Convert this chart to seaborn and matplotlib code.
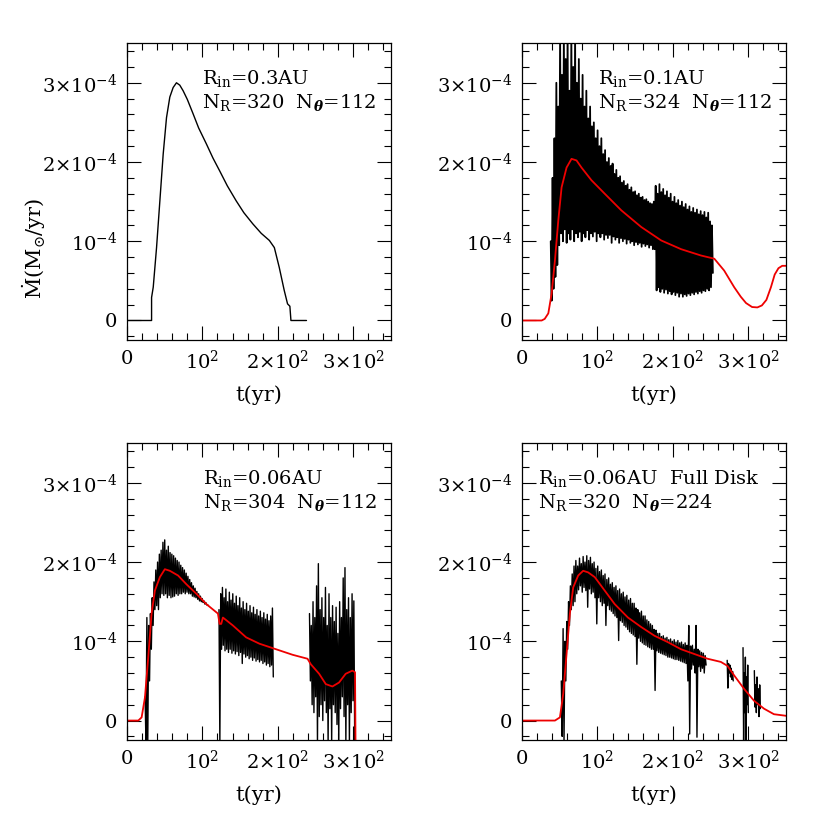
import numpy as np
import seaborn as sns
import matplotlib.pyplot as plt
from matplotlib.ticker import MultipleLocator

sns.set_style("ticks")
plt.rcParams['font.family'] = ['DejaVu Serif']
plt.rcParams['mathtext.fontset'] = 'dejavuserif'
plt.rcParams['text.color'] = 'k'
plt.rcParams['axes.labelcolor'] = 'k'

# values in units of 1e-4 Msun/yr, time in yr

# panel 1 (R_in = 0.3 AU), single smooth run
t1 = [0, 32.6, 32.6, 34.8, 39.2, 43.6, 48.0, 52.4, 56.8, 61.2, 65.6, 70, 74.4, 80,
      87.6, 95, 105.2, 114, 122.8, 133, 144.8, 155, 166.8, 178, 188.8, 195.4,
      201.9, 208.5, 212.9, 216, 217.4, 238]
v1 = [0, 0, 0.29, 0.42, 0.92, 1.51, 2.10, 2.56, 2.82, 2.94, 3.0, 2.97, 2.90, 2.79,
      2.61, 2.43, 2.23, 2.05, 1.89, 1.70, 1.51, 1.36, 1.22, 1.10, 1.01, 0.92,
      0.67, 0.38, 0.21, 0.18, 0, 0]

# panel 2 (R_in = 0.1 AU)
t2_red = [0, 26, 30, 34.8, 39.2, 43.6, 48, 52.4, 59, 65.6, 72.2, 78.8, 92, 109.6,
          131.6, 158, 184.5, 210.9, 237.3, 254.9, 268, 281.3, 290, 297, 305, 312,
          318, 324, 330, 335, 340, 345, 350]
v2_red = [0, 0, 0.02, 0.09, 0.34, 0.76, 1.26, 1.68, 1.93, 2.04, 2.02, 1.93, 1.77,
          1.60, 1.39, 1.18, 1.01, 0.90, 0.82, 0.78, 0.63, 0.42, 0.30, 0.22, 0.17,
          0.165, 0.19, 0.26, 0.42, 0.58, 0.66, 0.69, 0.69]
p2_span = [(38, 253)]
p2_hi = [[1.0, 1.8, 2.3, 3.0, 2.7, 3.6, 3.1, 3.6, 3.3, 3.6,
          2.9, 3.6, 3.2, 3.6, 3.0, 3.3, 2.8, 3.1, 2.7, 2.9,
          2.55, 2.7, 2.45, 2.5, 2.3, 2.4, 2.2, 2.3, 2.1, 2.15,
          2.0, 2.05, 1.95, 1.98, 1.85, 1.9, 1.8, 1.82, 1.74, 1.76,
          1.7, 1.72, 1.65, 1.68, 1.62, 1.63, 1.58, 1.6, 1.55, 1.56,
          1.52, 1.53, 1.5, 1.48, 1.47, 1.5, 1.7, 1.6, 1.72, 1.62,
          1.66, 1.58, 1.63, 1.55, 1.6, 1.5, 1.56, 1.48, 1.52, 1.45,
          1.5, 1.43, 1.47, 1.4, 1.44, 1.37, 1.42, 1.36, 1.4, 1.34,
          1.38, 1.33, 1.37, 1.3, 1.36, 1.25, 1.2]]
p2_lo = [[0.25, 0.4, 0.55, 0.7, 0.95, 1.1, 1.0, 1.15, 0.98, 1.1,
          1.02, 1.15, 1.0, 1.1, 1.05, 1.12, 1.0, 1.1, 1.05, 1.14,
          1.02, 1.1, 1.06, 1.12, 1.0, 1.1, 1.05, 1.1, 1.02, 1.08,
          1.04, 1.08, 0.98, 1.06, 1.02, 1.05, 0.98, 1.04, 1.0, 1.03,
          0.97, 1.02, 0.98, 1.0, 0.95, 0.99, 0.96, 0.98, 0.93, 0.97,
          0.94, 0.96, 0.92, 0.95, 0.9, 0.9, 0.38, 0.42, 0.36, 0.4,
          0.35, 0.39, 0.34, 0.37, 0.33, 0.36, 0.32, 0.35, 0.3, 0.34,
          0.3, 0.33, 0.31, 0.34, 0.32, 0.35, 0.33, 0.36, 0.34, 0.37,
          0.35, 0.38, 0.37, 0.4, 0.38, 0.42, 0.6]]

# panel 3 (R_in = 0.06 AU)
t3_red = [0, 15, 19.4, 23.8, 28.2, 32.6, 37, 43.6, 50.2, 56.8, 67.8, 78.8, 92,
          105.2, 120.6, 122.8, 125, 127.2, 140.4, 158, 175.6, 197.6, 219.6, 239.4,
          243.8, 254.8, 263.6, 272.4, 281.2, 290, 298.8, 302.4, 303.2]
v3_red = [0, 0, 0.04, 0.29, 0.80, 1.35, 1.64, 1.81, 1.91, 1.89, 1.83, 1.72, 1.60,
          1.47, 1.35, 1.22, 1.22, 1.30, 1.20, 1.05, 0.97, 0.90, 0.83, 0.78,
          0.71, 0.59, 0.46, 0.43, 0.48, 0.59, 0.63, 0.61, -0.5]
p3_span = [(24, 108), (122, 194), (242, 302)]
p3_hi = [[0.3, 1.3, 1.2, 1.35, 1.55, 1.75, 1.9, 2.0, 2.1, 2.15,
          2.25, 2.28, 2.15, 2.2, 2.12, 2.1, 2.08, 2.05, 2.02, 2.0,
          1.96, 1.93, 1.9, 1.86, 1.82, 1.78, 1.74, 1.7, 1.67, 1.63,
          1.6, 1.57, 1.54, 1.51, 1.49, 1.46],
         [1.4, 1.6, 1.68, 1.55, 1.66, 1.5, 1.62, 1.52, 1.6, 1.48,
          1.57, 1.45, 1.55, 1.42, 1.5, 1.4, 1.48, 1.38, 1.45, 1.36,
          1.43, 1.34, 1.4, 1.32, 1.38, 1.3, 1.36, 1.28, 1.34, 1.26,
          1.32, 1.42],
         [1.35, 1.2, 1.5, 1.3, 1.7, 1.98, 1.4, 1.55, 1.3, 1.68,
          1.2, 1.6, 1.3, 1.45, 1.25, 1.43, 1.1, 1.5, 1.3, 1.8,
          1.93, 1.4, 1.55, 1.3, 1.6, 1.51]]
p3_lo = [[-0.3, -0.3, 0.5, 0.9, 1.2, 1.4, 1.45, 1.4, 1.55, 1.6,
          1.58, 1.6, 1.55, 1.58, 1.55, 1.56, 1.57, 1.6, 1.58, 1.6,
          1.6, 1.62, 1.6, 1.62, 1.6, 1.6, 1.57, 1.56, 1.55, 1.53,
          1.51, 1.5, 1.49, 1.47, 1.46, 1.45],
         [-0.3, 0.9, 0.95, 0.88, 0.9, 0.86, 0.9, 0.85, 0.88, 0.84,
          0.87, 0.82, 0.86, 0.72, 0.84, 0.8, 0.82, 0.78, 0.8, 0.76,
          0.79, 0.75, 0.77, 0.74, 0.76, 0.72, 0.74, 0.7, 0.72, 0.68,
          0.7, 0.55],
         [0.5, 0.2, 0.1, 0.3, -0.3, 0.05, 0.2, 0.0, 0.25, 0.1,
          -0.3, 0.15, -0.3, 0.2, 0.1, -0.05, -0.3, 0.15, 0.3, 0.05,
          -0.3, 0.2, -0.3, 0.1, 0.25, -0.3]]

# panel 4 (R_in = 0.06 AU, full disk)
t4_red = [0, 43.6, 50.2, 54.6, 59, 63.4, 67.8, 74.4, 81, 87.6, 96.4, 109.6, 122.8,
          140.4, 158, 175.6, 193.2, 210.8, 228.4, 246, 263.6, 272.4, 281.2, 294.4,
          307.6, 320.8, 334, 350]
v4_red = [0, 0, 0.04, 0.34, 0.84, 1.35, 1.68, 1.83, 1.89, 1.87, 1.81, 1.64, 1.47,
          1.30, 1.18, 1.07, 0.99, 0.90, 0.84, 0.78, 0.74, 0.69, 0.57, 0.40, 0.25,
          0.15, 0.08, 0.06]
p4_span = [(52, 244), (272, 280), (293, 300), (308, 316)]
p4_hi = [[0.5, 1.16, 1.0, 1.25, 1.5, 1.7, 1.85, 1.95, 2.02, 1.95,
          2.05, 1.98, 2.07, 2.0, 2.08, 2.02, 2.06, 1.98, 2.0, 1.92,
          1.95, 1.88, 1.9, 1.83, 1.85, 1.78, 1.8, 1.72, 1.74, 1.68,
          1.7, 1.64, 1.66, 1.6, 1.62, 1.56, 1.58, 1.52, 1.54, 1.48,
          1.48, 1.42, 1.4, 1.36, 1.38, 1.32, 1.32, 1.27, 1.25, 1.22,
          1.2, 1.15, 1.14, 1.1, 1.1, 1.06, 1.07, 1.04, 1.05, 1.02,
          1.03, 1.0, 1.02, 0.99, 1.01, 0.98, 0.99, 0.96, 0.98, 0.95,
          1.2, 0.94, 0.95, 0.9, 1.2, 0.9, 0.88, 0.86, 0.85, 0.82],
         [0.76, 0.72, 0.7, 0.66, 0.62],
         [0.92, 0.6, 0.8, 0.55, 0.7],
         [0.63, 0.45, 0.55, 0.4, 0.45]]
p4_lo = [[-0.2, -0.25, 0.5, 0.9, 1.2, 1.4, 1.45, 1.5, 1.6, 1.65,
          1.7, 1.62, 1.68, 1.64, 1.43, 1.66, 1.6, 1.62, 1.55, 1.22,
          1.55, 1.5, 1.45, 1.48, 1.2, 1.45, 1.4, 1.38, 1.35, 1.32,
          1.3, 1.01, 1.26, 1.24, 1.2, 1.18, 1.15, 1.12, 1.1, 1.08,
          1.06, 0.71, 1.04, 1.0, 0.98, 0.96, 0.95, 0.93, 0.92, 0.9,
          0.9, 0.38, 0.88, 0.86, 0.85, 0.84, 0.83, 0.82, 0.8, 0.8,
          0.79, 0.78, 0.77, 0.77, 0.76, 0.75, 0.74, 0.73, 0.72, 0.5,
          -0.17, 0.65, 0.7, 0.6, -0.21, 0.68, 0.62, 0.66, 0.6, 0.7],
         [0.41, 0.6, 0.55, 0.52, 0.5],
         [-0.25, 0.1, -0.25, 0.2, 0.1],
         [0.17, 0.1, 0.2, 0.05, 0.15]]

labels = [
    ('R$_{\\mathrm{in}}$=0.3AU', 'N$_{\\mathrm{R}}$=320  N$_{\\boldsymbol{\\theta}}$=112'),
    ('R$_{\\mathrm{in}}$=0.1AU', 'N$_{\\mathrm{R}}$=324  N$_{\\boldsymbol{\\theta}}$=112'),
    ('R$_{\\mathrm{in}}$=0.06AU', 'N$_{\\mathrm{R}}$=304  N$_{\\boldsymbol{\\theta}}$=112'),
    ('R$_{\\mathrm{in}}$=0.06AU  Full Disk', 'N$_{\\mathrm{R}}$=320  N$_{\\boldsymbol{\\theta}}$=224'),
]
label_x = [0.283, 0.289, 0.287, 0.062]

xtick_vals = [0, 100, 200, 300]
xtick_text = ['0', '$10^{2}$', '$2{\\times}10^{2}$', '$3{\\times}10^{2}$']
ytick_vals = [0, 1e-4, 2e-4, 3e-4]
ytick_text = ['0', '$10^{-4}$', '$2{\\times}10^{-4}$', '$3{\\times}10^{-4}$']


def zigzag(t0, t1, hi, lo):
    n = len(hi)
    t = np.linspace(t0, t1, 2 * n)
    v = np.empty(2 * n)
    v[0::2] = hi
    v[1::2] = lo
    return t, v * 1e-4


fig = plt.figure(figsize=(8.3, 8.3), dpi=100)
boxes = [(0.153, 0.590), (0.629, 0.590), (0.153, 0.108), (0.629, 0.108)]
axes = [fig.add_axes([x0, y0, 0.318, 0.358]) for x0, y0 in boxes]

# black runs
sns.lineplot(x=t1, y=np.array(v1) * 1e-4, ax=axes[0], color='k', lw=1.0,
             estimator=None, sort=False)
for ax, spans, his, los, w in [(axes[1], p2_span, p2_hi, p2_lo, 1.3),
                               (axes[2], p3_span, p3_hi, p3_lo, 1.0),
                               (axes[3], p4_span, p4_hi, p4_lo, 1.0)]:
    for (a, b), hi, lo in zip(spans, his, los):
        tz, vz = zigzag(a, b, hi, lo)
        sns.lineplot(x=tz, y=vz, ax=ax, color='k', lw=w, estimator=None, sort=False)

# smoothed (red) curves
for ax, tr, vr in [(axes[1], t2_red, v2_red), (axes[2], t3_red, v3_red),
                   (axes[3], t4_red, v4_red)]:
    sns.lineplot(x=tr, y=np.array(vr) * 1e-4, ax=ax, color='#ee0000', lw=1.3,
                 estimator=None, sort=False)

for i, ax in enumerate(axes):
    ax.set_xlim(0, 350)
    ax.set_ylim(-0.25e-4, 3.5e-4)
    ax.set_xticks(xtick_vals, xtick_text)
    ax.set_yticks(ytick_vals, ytick_text)
    ax.xaxis.set_minor_locator(MultipleLocator(20))
    ax.yaxis.set_minor_locator(MultipleLocator(0.2e-4))
    ax.tick_params(which='both', direction='in', top=True, right=True,
                   width=0.8, colors='k', labelsize=14)
    ax.tick_params(which='major', length=10, pad=7)
    ax.tick_params(which='minor', length=5)
    for s in ax.spines.values():
        s.set_linewidth(0.9)
        s.set_color('k')
    ax.set_xlabel('t(yr)', fontsize=15)
    ax.xaxis.set_label_coords(0.5, -0.15)
    ax.set_ylabel('')
    ax.text(label_x[i], 0.88, labels[i][0], transform=ax.transAxes, fontsize=14,
            va='center', ha='left')
    ax.text(label_x[i], 0.80, labels[i][1], transform=ax.transAxes, fontsize=14,
            va='center', ha='left')

axes[0].set_ylabel('$\\dot{\\mathrm{M}}(\\mathrm{M}_{\\odot}/\\mathrm{yr})$', fontsize=15)
axes[0].yaxis.set_label_coords(-0.30, 0.31)

fig.savefig('out.png', dpi=100)
